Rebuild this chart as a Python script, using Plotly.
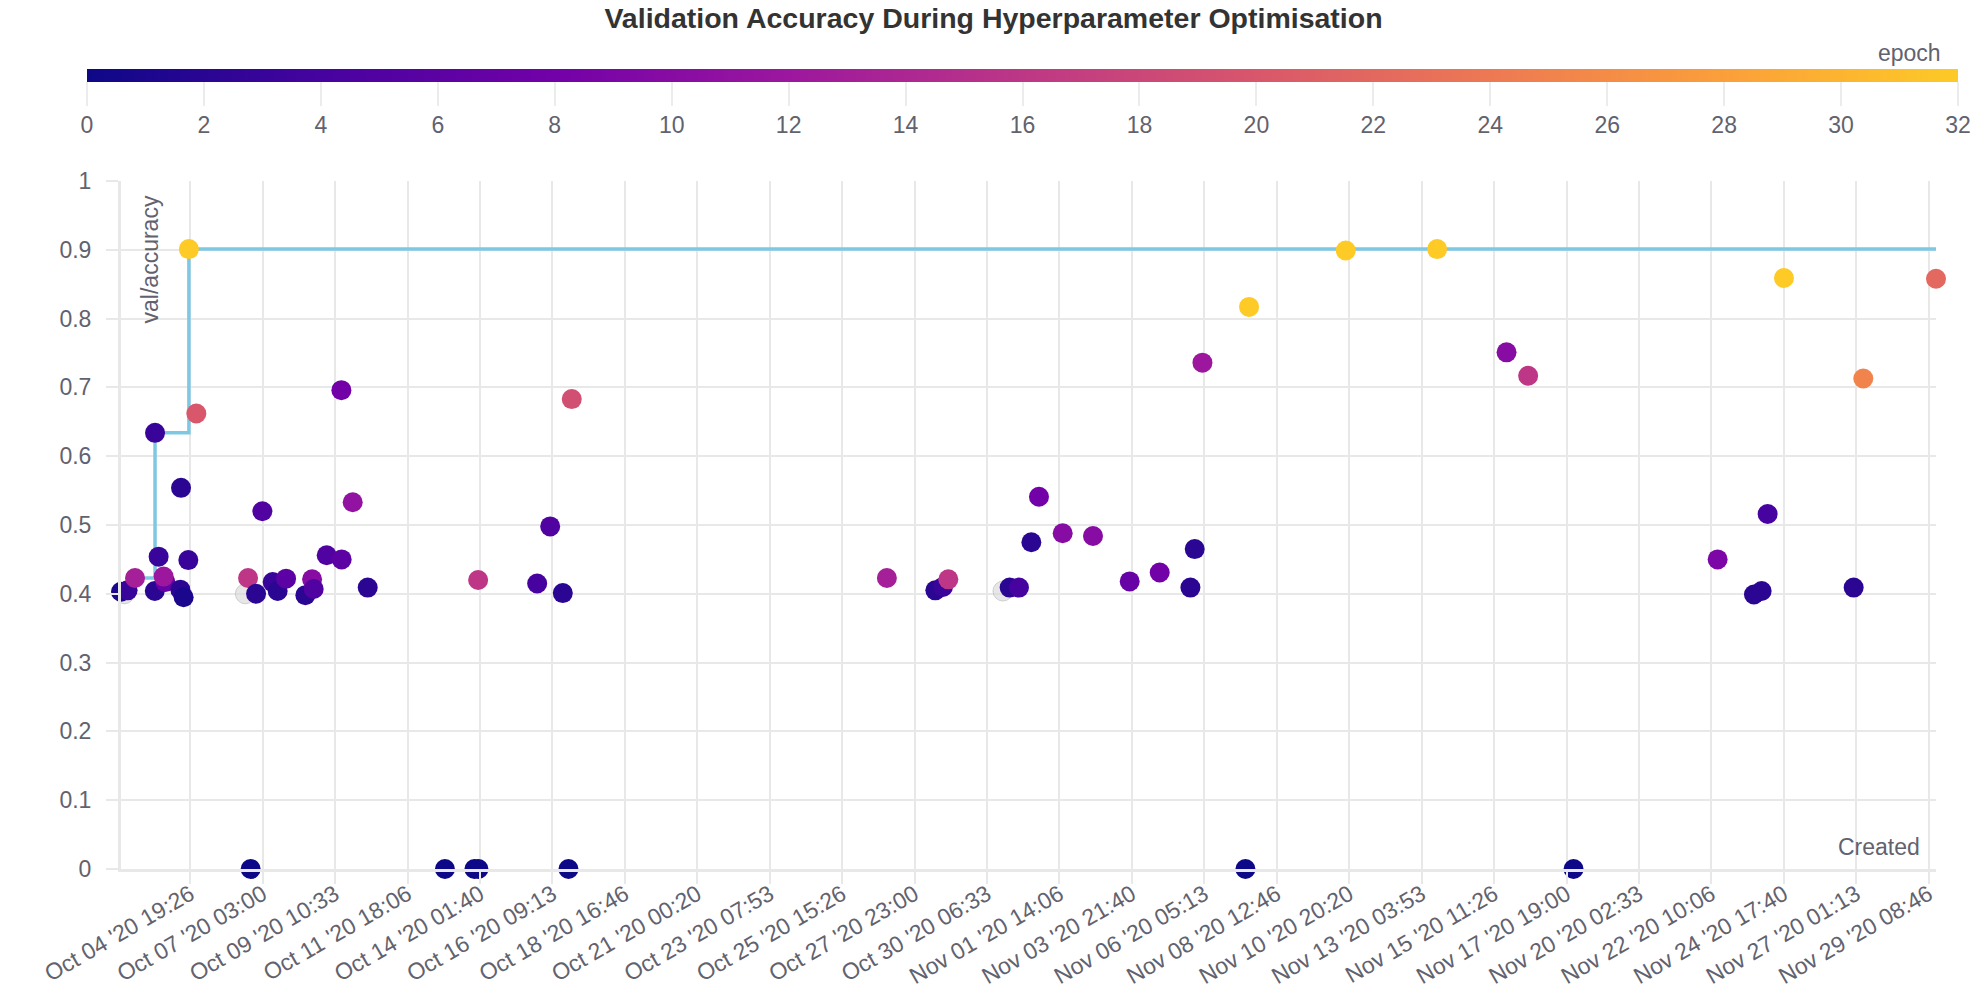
import numpy as np
import pandas as pd
import plotly.graph_objects as go

# runs: created time, val/accuracy, epoch (colour)
created = [
    "2020-10-02 14:15", "2020-10-02 19:19", "2020-10-03 01:00", "2020-10-03 16:10",
    "2020-10-03 16:21", "2020-10-03 19:07", "2020-10-04 00:15", "2020-10-03 22:57",
    "2020-10-04 11:46", "2020-10-04 12:18", "2020-10-04 14:18", "2020-10-04 17:54",
    "2020-10-04 18:20", "2020-10-05 00:02", "2020-10-06 15:42", "2020-10-06 17:42",
    "2020-10-06 21:51", "2020-10-07 02:41", "2020-10-07 13:12", "2020-10-07 10:35",
    "2020-10-07 14:25", "2020-10-07 20:52", "2020-10-08 11:40", "2020-10-08 16:49",
    "2020-10-08 18:03", "2020-10-09 04:01", "2020-10-09 15:18", "2020-10-09 15:30",
    "2020-10-09 23:58", "2020-10-10 11:29", "2020-10-12 22:43", "2020-10-13 21:21",
    "2020-10-14 00:12", "2020-10-14 00:25", "2020-10-15 21:28", "2020-10-16 07:27",
    "2020-10-16 17:07", "2020-10-16 21:29", "2020-10-17 00:01", "2020-10-27 01:43",
    "2020-10-28 14:52", "2020-10-28 20:42", "2020-10-29 00:50", "2020-10-30 23:52",
    "2020-10-31 07:01", "2020-10-31 16:31", "2020-10-31 22:22", "2020-11-01 16:33",
    "2020-11-02 15:48", "2020-11-03 19:57", "2020-11-04 18:58", "2020-11-05 18:32",
    "2020-11-05 21:50", "2020-11-06 03:45", "2020-11-07 12:44", "2020-11-07 15:30",
    "2020-11-10 17:42", "2020-11-13 15:46", "2020-11-15 21:01", "2020-11-16 13:35",
    "2020-11-18 00:25", "2020-11-22 14:55", "2020-11-23 18:46", "2020-11-24 00:41",
    "2020-11-24 05:17", "2020-11-24 17:48", "2020-11-26 23:16", "2020-11-27 06:39",
    "2020-11-29 14:25",
]
val_accuracy = [
    0.403, 0.405, 0.423, 0.404,
    0.634, 0.454, 0.417, 0.425,
    0.406, 0.554, 0.395, 0.449,
    0.901, 0.662, 0.423, 0.0,
    0.400, 0.520, 0.415, 0.417,
    0.404, 0.422, 0.398, 0.421,
    0.407, 0.456, 0.696, 0.450,
    0.533, 0.409, 0.0, 0.0,
    0.420, 0.0, 0.415, 0.498,
    0.401, 0.0, 0.683, 0.423,
    0.405, 0.410, 0.421, 0.409,
    0.409, 0.475, 0.541, 0.488,
    0.484, 0.418, 0.431, 0.409,
    0.465, 0.736, 0.0, 0.817,
    0.899, 0.901, 0.751, 0.717,
    0.0, 0.450, 0.399, 0.404,
    0.516, 0.859, 0.409, 0.713,
    0.858,
]
epoch = [
    1, 3, 13, 2,
    3, 3, 7, 12,
    2, 2, 1, 3,
    32, 20, 16, 0,
    2, 5, 9, 3,
    2, 6, 2, 10,
    5, 5, 8, 6,
    11, 2, 0, 0,
    16, 0, 4, 5,
    2, 0, 19, 13,
    2, 3, 16, 2,
    4, 2, 8, 10,
    10, 7, 8, 2,
    2, 12, 0, 32,
    32, 32, 10, 16,
    0, 9, 2, 2,
    4, 32, 2, 25,
    22,
]

# runs with no epoch logged (grey)
created_no_epoch = ["2020-10-02 16:48", "2020-10-06 13:38", "2020-10-30 18:44"]
accuracy_no_epoch = [0.400, 0.400, 0.404]

x_ticks = [
    "2020-10-04 19:26", "2020-10-07 03:00", "2020-10-09 10:33", "2020-10-11 18:06",
    "2020-10-14 01:40", "2020-10-16 09:13", "2020-10-18 16:46", "2020-10-21 00:20",
    "2020-10-23 07:53", "2020-10-25 15:26", "2020-10-27 23:00", "2020-10-30 06:33",
    "2020-11-01 14:06", "2020-11-03 21:40", "2020-11-06 05:13", "2020-11-08 12:46",
    "2020-11-10 20:20", "2020-11-13 03:53", "2020-11-15 11:26", "2020-11-17 19:00",
    "2020-11-20 02:33", "2020-11-22 10:06", "2020-11-24 17:40", "2020-11-27 01:13",
    "2020-11-29 08:46",
]

plasma = ['#0d0887', '#46039f', '#7201a8', '#9c179e', '#bd3786',
          '#d8576b', '#ed7953', '#fb9f3a', '#fdca26']

GRAY = "#62626e"
GRID = "#e8e8e8"
FONT = "Liberation Sans"

df = pd.DataFrame({"created": pd.to_datetime(created), "acc": val_accuracy, "epoch": epoch})

# best so far line
best = df.sort_values("created").reset_index(drop=True)
best["best"] = best["acc"].cummax()

fig = go.Figure()

fig.add_trace(go.Scatter(
    x=best["created"], y=best["best"], mode="lines",
    line=dict(color="#7ec8e3", width=3.5, shape="hv"),
    hoverinfo="skip", showlegend=False, cliponaxis=False,
))

fig.add_trace(go.Scatter(
    x=pd.to_datetime(created_no_epoch), y=accuracy_no_epoch, mode="markers",
    marker=dict(size=20, color="rgba(215,215,215,0.6)",
                line=dict(color="rgba(170,170,170,0.5)", width=1)),
    showlegend=False, cliponaxis=False,
))

fig.add_trace(go.Scatter(
    x=df["created"], y=df["acc"], mode="markers",
    marker=dict(
        size=20, color=df["epoch"], colorscale=plasma, cmin=0, cmax=32,
        line=dict(width=0),
        colorbar=dict(
            orientation="h", x=0.4967, xanchor="center", y=1.1624, yanchor="top",
            len=1871, lenmode="pixels", thickness=13, thicknessmode="pixels",
            xpad=0, ypad=0, outlinewidth=0, tick0=0, dtick=2,
            ticks="outside", ticklen=24, tickwidth=1.5, tickcolor="#ececec",
            tickfont=dict(family=FONT, size=23, color=GRAY),
        ),
    ),
    showlegend=False, cliponaxis=False,
))

# page body has an 8px margin, so the figure is 8px smaller and shifted
fig.update_layout(
    width=1971, height=981,
    margin=dict(l=113, r=43, t=173, b=120, pad=0, autoexpand=False),
    paper_bgcolor="white", plot_bgcolor="white",
    font=dict(family=FONT, size=23, color=GRAY),
    title=dict(
        text="<b>Validation Accuracy During Hyperparameter Optimisation</b>",
        x=0.5, xref="container", xanchor="center",
        y=1.0, yref="container", yanchor="top",
        font=dict(family=FONT, size=28.5, color="#333333"),
    ),
)

fig.update_xaxes(
    type="date", range=[df["created"].min(), df["created"].max()],
    tickvals=pd.to_datetime(x_ticks), tickformat="%b %d '%y %H:%M", tickangle=-30,
    showgrid=True, gridcolor=GRID, gridwidth=1.5,
    showline=True, linecolor=GRID, linewidth=3,
    ticks="outside", ticklen=12, tickcolor=GRID, tickwidth=1.5,
    zeroline=False, automargin=False, tickfont=dict(size=23, color=GRAY),
    ticklabelstandoff=-12,
)
fig.update_yaxes(
    range=[0, 1], dtick=0.1,
    showgrid=True, gridcolor=GRID, gridwidth=1.5,
    showline=True, linecolor=GRID, linewidth=3,
    ticks="outside", ticklen=12, tickcolor=GRID, tickwidth=1.5,
    zeroline=False, automargin=False, tickfont=dict(size=23, color=GRAY),
    ticklabelstandoff=10,
)

fig.add_annotation(text="val/accuracy", xref="paper", yref="paper", x=0.016, y=0.982,
                   xanchor="center", yanchor="top", textangle=-90, showarrow=False,
                   font=dict(size=23, color=GRAY))
fig.add_annotation(text="Created", xref="paper", yref="paper", x=0.9923, y=0.0097,
                   xanchor="right", yanchor="bottom", showarrow=False,
                   font=dict(size=23, color=GRAY))
fig.add_annotation(text="epoch", xref="paper", yref="paper", x=1.0039, y=1.164,
                   xanchor="right", yanchor="bottom", showarrow=False,
                   font=dict(size=23, color=GRAY))

fig.write_html("out.html")
